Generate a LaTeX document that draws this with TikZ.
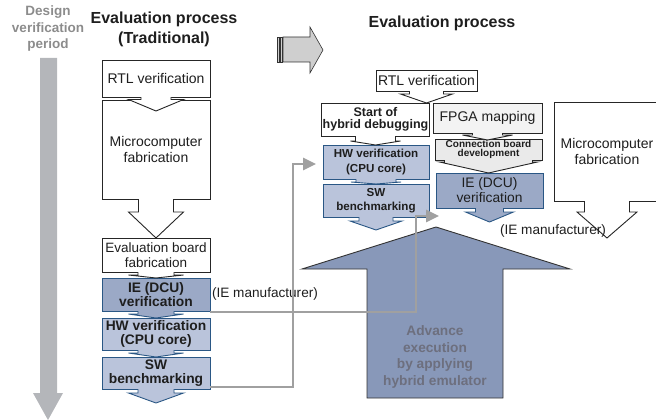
\documentclass[tikz,border=0pt]{standalone}
\usepackage{fontspec}
\setmainfont{Liberation Sans}
\usetikzlibrary{calc,arrows.meta}

\definecolor{ink}{HTML}{1E1E1E}
\definecolor{ieblue}{HTML}{9BA9C6}
\definecolor{lightblue}{HTML}{BAC4DB}
\definecolor{edgeblue}{HTML}{2A5785}
\definecolor{bigblue}{HTML}{8898B9}
\definecolor{advgray}{HTML}{6D6F7E}
\definecolor{linkgray}{HTML}{A0A0A0}
\definecolor{periodgray}{HTML}{B4B6BA}
\definecolor{labelgray}{HTML}{8C8C8C}
\definecolor{fpgafill}{HTML}{F3F3F3}
\definecolor{connfill}{HTML}{EAEAEA}
\definecolor{shiftgray}{HTML}{CFCFCF}

\newcommand\fsz[2]{\fontsize{#1}{#2}\selectfont}

% Down-pointing tail under a step box:
% #1 node, #2 stem half width, #3 head half width, #4 stem length,
% #5 tip depth, #6 fill, #7 outline colour
\newcommand\boxtail[7]{%
  \fill[#6] ([xshift=-#2pt,yshift=0.8pt]#1.south) -- ([xshift=-#2pt,yshift=-#4pt]#1.south)
    -- ([xshift=-#3pt,yshift=-#4pt]#1.south) -- ([yshift=-#5pt]#1.south)
    -- ([xshift=#3pt,yshift=-#4pt]#1.south) -- ([xshift=#2pt,yshift=-#4pt]#1.south)
    -- ([xshift=#2pt,yshift=0.8pt]#1.south) -- cycle;
  \draw[draw=#7, line width=0.9pt, line join=miter]
    ([xshift=-#2pt]#1.south) -- ([xshift=-#2pt,yshift=-#4pt]#1.south)
    -- ([xshift=-#3pt,yshift=-#4pt]#1.south) -- ([yshift=-#5pt]#1.south)
    -- ([xshift=#3pt,yshift=-#4pt]#1.south) -- ([xshift=#2pt,yshift=-#4pt]#1.south)
    -- ([xshift=#2pt]#1.south);
}

\tikzset{
  stepbox/.style={rectangle, draw=black!85, fill=white, line width=0.9pt, outer sep=0pt,
    inner sep=1pt, align=center, text=ink, font=\fsz{14}{16}},
  iebox/.style={stepbox, draw=edgeblue, fill=ieblue},
  lbbox/.style={stepbox, draw=edgeblue, fill=lightblue},
  heading/.style={align=center, text=ink, font=\bfseries\fsz{16}{20}},
  note/.style={text=ink, font=\fsz{13.6}{15}},
  link/.style={draw=linkgray, line width=2.8pt, line join=miter,
    -{Triangle[length=13pt,width=12pt]}},
}

\begin{document}
\begin{tikzpicture}[x=1pt,y=-1pt]
\useasboundingbox (0,0) rectangle (656,420);
\clip (0,0) rectangle (656,420);

% design verification period
\fill[periodgray] (40,58) -- (57,58) -- (57,393) -- (63,393) -- (48,420) -- (33,393) -- (40,393) -- cycle;
\node[align=center, text=labelgray, font=\bfseries\fsz{13.5}{16.5}] (period) at (48,29)
  {Design\\verification\\period};

% headings
\node[heading] (headL) at (164,29) {Evaluation process\\(Traditional)};
\node[heading] (headR) at (442,23) {Evaluation process};

% transition arrow
\filldraw[fill=shiftgray, draw=black!80, line width=0.6pt]
  (283,37) -- (310,37) -- (310,27) -- (323,50) -- (310,73) -- (310,62) -- (283,62) -- cycle;
\filldraw[fill=shiftgray, draw=black!80, line width=0.6pt] (277,37) rectangle (279,62);
\filldraw[fill=shiftgray, draw=black!80, line width=0.6pt] (280.3,37) rectangle (281.8,62);

% traditional flow
\node[stepbox, minimum width=108pt, minimum height=37pt] (rtlL) at (156,78.5) {RTL verification};
\node[stepbox, minimum width=108pt, minimum height=99pt] (microL) at (156,149.5) {Microcomputer\\fabrication};
\node[stepbox, font=\fsz{13.5}{15}, minimum width=108pt, minimum height=34pt] (evalL) at (156,255) {Evaluation board\\fabrication};
\node[iebox, font=\bfseries\fsz{13.8}{14.5}, minimum width=108pt, minimum height=33pt] (ieL) at (156,294.5) {IE (DCU)\\verification};
\node[lbbox, font=\bfseries\fsz{13.8}{14.5}, minimum width=108pt, minimum height=32pt] (hwL) at (156,334) {HW verification\\(CPU core)};
\node[lbbox, font=\bfseries\fsz{13.8}{14.5}, minimum width=108pt, minimum height=32pt] (swL) at (156,373) {SW\\benchmarking};

\boxtail{rtlL}{15}{27.5}{2.5}{14}{white}{black!85}
\boxtail{microL}{17.5}{27.5}{13}{39}{white}{black!85}
\boxtail{evalL}{18}{27.5}{3}{6}{white}{black!85}
\boxtail{ieL}{18}{27.5}{3}{7}{ieblue}{edgeblue}
\boxtail{hwL}{18}{27.5}{3}{7}{lightblue}{edgeblue}
\boxtail{swL}{18}{27.5}{4}{14}{lightblue}{edgeblue}

\node[note] (mfrL) at (265,294) {(IE manufacturer)};

% flow with the hybrid emulator
\node[stepbox, minimum width=101pt, minimum height=21pt] (rtlR) at (426.5,80.5) {RTL verification};
\node[stepbox, font=\bfseries\fsz{12.5}{12}, minimum width=107pt, minimum height=33pt] (startR) at (375.5,119.5) {Start of\\hybrid debugging};
\node[stepbox, fill=fpgafill, minimum width=109pt, minimum height=30pt] (fpgaR) at (487.5,118) {FPGA mapping};
\node[stepbox, fill=connfill, inner sep=0.5pt, font=\bfseries\fsz{10}{9.5}, minimum width=107pt, minimum height=21pt] (connR) at (488.5,149.5) {Connection board\\development};
\node[lbbox, font=\bfseries\fsz{11.6}{14.5}, minimum width=106pt, minimum height=34pt] (hwR) at (376,162) {HW verification\\(CPU core)};
\node[lbbox, font=\bfseries\fsz{11.6}{14}, minimum width=106pt, minimum height=33pt] (swR) at (376,200.5) {SW\\benchmarking};
\node[iebox, font=\fsz{13.8}{15}, minimum width=107pt, minimum height=35pt] (ieR) at (489.5,190.5) {IE (DCU)\\verification};
\node[stepbox, minimum width=106pt, minimum height=99pt] (microR) at (607,151.5) {Microcomputer\\fabrication};

\boxtail{rtlR}{17}{26}{3}{12}{white}{black!85}
\boxtail{startR}{20}{25}{5}{9}{white}{black!85}
\boxtail{hwR}{20}{25}{3}{5}{lightblue}{edgeblue}
\boxtail{swR}{17}{26}{4}{13}{lightblue}{edgeblue}
\boxtail{fpgaR}{15}{25}{2}{7}{fpgafill}{black!85}
\boxtail{connR}{44}{49}{2}{13}{connfill}{black!85}
\boxtail{ieR}{14}{24}{4}{14}{ieblue}{edgeblue}
\boxtail{microR}{22.5}{30}{11}{37}{white}{black!85}

\node[note] (mfrR) at (553,231) {(IE manufacturer)};

% advance execution arrow
\filldraw[fill=bigblue, draw=black!80, line width=0.9pt, line join=miter]
  (436,227) -- (570,269) -- (503,269) -- (503,398) -- (367,398) -- (367,269) -- (302,269) -- cycle;
\node[align=center, text=advgray, font=\bfseries\fsz{13.7}{16.7}] (adv) at (435,357)
  {Advance\\execution\\by applying\\hybrid emulator};

% links between the two flows
\coordinate (bendA) at (416,216);
\coordinate (tipA) at (439,216);
\coordinate (bendB) at (293,164);
\coordinate (tipB) at (316,164);
\draw[link] ([yshift=-1pt]ieL.south east) -| (bendA) -- (tipA);
\draw[link] ([yshift=2pt]swL.south east) -| (bendB) -- (tipB);
\end{tikzpicture}
\end{document}
